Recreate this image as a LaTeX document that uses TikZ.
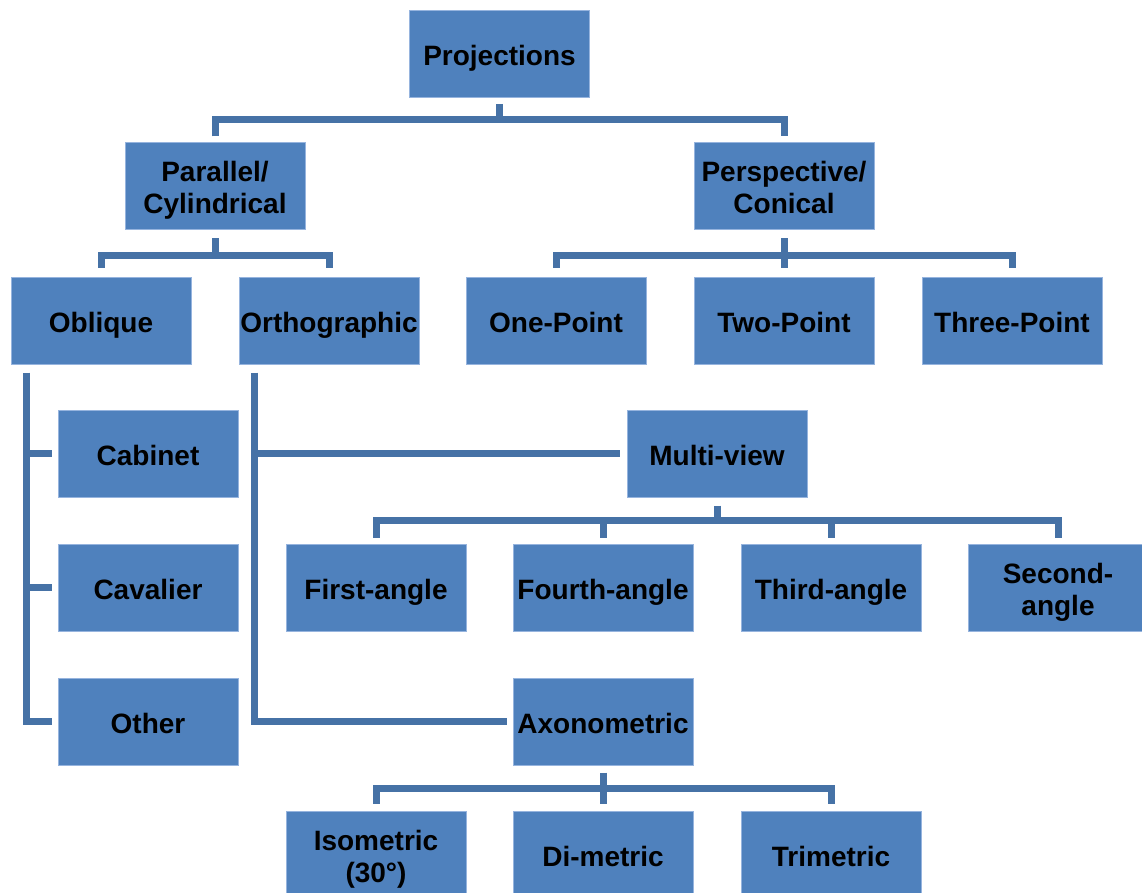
\documentclass[tikz,border=0pt]{standalone}
\usepackage{fontspec}
\setmainfont{Liberation Sans}
\usetikzlibrary{calc}
\definecolor{boxfill}{RGB}{79,129,189}
\definecolor{boxedge}{RGB}{150,180,222}
\definecolor{connc}{RGB}{70,114,166}
\tikzset{
  box/.style={draw=boxedge, line width=1pt, fill=boxfill, minimum width=180pt, minimum height=87pt, inner sep=0pt, align=center, font=\bfseries\fontsize{28}{32}\selectfont, text height=23pt, text depth=0pt},
  twoline/.style={text height=55pt, text depth=0pt},
  conn/.style={draw=connc, line width=7pt, line join=miter, line cap=butt}
}
\begin{document}
\begin{tikzpicture}[x=1pt,y=-1pt]
\useasboundingbox (0,0) rectangle (1142,893);
\clip (0,0) rectangle (1142,893);
% nodes
\node[box] (proj) at (499.5,54) {Projections};
\node[box,twoline] (par) at (215,186.5) {Parallel/\\Cylindrical};
\node[box,twoline] (persp) at (784,186.5) {Perspective/\\Conical};
\node[box] (obl) at (101,320.5) {Oblique};
\node[box] (ortho) at (329,320.5) {Orthographic};
\node[box] (one) at (556,320.5) {One-Point};
\node[box] (two) at (784,320.5) {Two-Point};
\node[box] (three) at (1012,320.5) {Three-Point};
\node[box] (cab) at (148,453.5) {Cabinet};
\node[box] (cav) at (148,587.5) {Cavalier};
\node[box] (oth) at (148,721.5) {Other};
\node[box] (mv) at (717,453.5) {Multi-view};
\node[box] (first) at (376,587.5) {First-angle};
\node[box] (fourth) at (603,587.5) {Fourth-angle};
\node[box] (third) at (831,587.5) {Third-angle};
\node[box,twoline] (second) at (1058,587.5) {Second-\\angle};
\node[box] (axo) at (603,721.5) {Axonometric};
\node[box,twoline] (iso) at (376,854.5) {Isometric\\(30°)};
\node[box] (di) at (603,854.5) {Di-metric};
\node[box] (tri) at (831,854.5) {Trimetric};
% Projections
\coordinate (pj) at ($(proj.south)+(0,22)$);
\draw[conn] ($(proj.south)+(0,6)$) -- (pj);
\draw[conn] ($(par.north)+(0,-6)$) |- (pj) -| ($(persp.north)+(0,-6)$);
% Parallel
\coordinate (pb) at ($(par.south)+(0,25)$);
\draw[conn] ($(par.south)+(0,8)$) -- (pb);
\draw[conn] ($(obl.north)+(0,-9)$) |- (pb) -| ($(ortho.north)+(0,-9)$);
% Perspective
\coordinate (sb) at ($(persp.south)+(0,25)$);
\draw[conn] ($(persp.south)+(0,8)$) -- ($(two.north)+(0,-9)$);
\draw[conn] ($(one.north)+(0,-9)$) |- (sb) -| ($(three.north)+(0,-9)$);
% Oblique spine
\coordinate (os) at ($(obl.south west)+(15.5,8)$);
\draw[conn] (os) |- ($(oth.west)+(-6,0)$);
\draw[conn] (os |- cab.west) -- ($(cab.west)+(-6,0)$);
\draw[conn] (os |- cav.west) -- ($(cav.west)+(-6,0)$);
% Orthographic spine
\coordinate (rs) at ($(ortho.south west)+(15.5,8)$);
\draw[conn] (rs) |- ($(axo.west)+(-6,0)$);
\draw[conn] (rs |- mv.west) -- ($(mv.west)+(-7,0)$);
% Multi-view
\coordinate (mb) at ($(mv.south)+(0,23)$);
\draw[conn] ($(mv.south)+(0,8)$) -- (mb);
\draw[conn] ($(first.north)+(0,-6)$) |- (mb) -| ($(second.north)+(0,-6)$);
\draw[conn] ($(fourth.north)+(0,-6)$) -- (fourth.north |- mb);
\draw[conn] ($(third.north)+(0,-6)$) -- (third.north |- mb);
% Axonometric
\coordinate (ab) at ($(axo.south)+(0,23)$);
\draw[conn] ($(axo.south)+(0,7)$) -- ($(di.north)+(0,-7)$);
\draw[conn] ($(iso.north)+(0,-7)$) |- (ab) -| ($(tri.north)+(0,-7)$);
\end{tikzpicture}
\end{document}
